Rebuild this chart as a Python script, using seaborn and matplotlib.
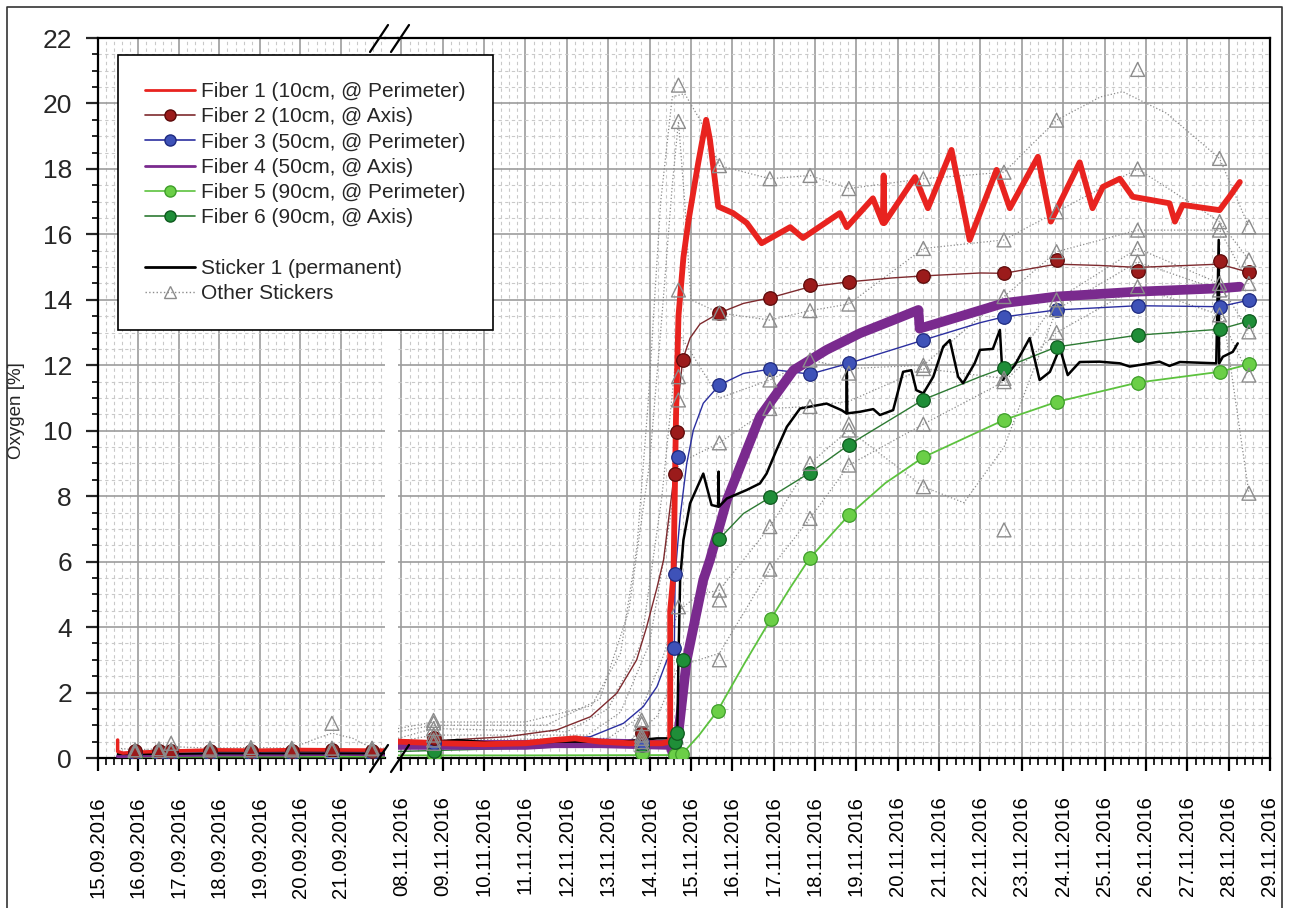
import matplotlib
matplotlib.use("Agg")
import matplotlib.pyplot as plt
from matplotlib.lines import Line2D
from matplotlib.ticker import MultipleLocator
import seaborn as sns

sns.set_style("ticks")
plt.rcParams['font.family'] = ['Liberation Sans', 'DejaVu Sans']

# ---------------- tick labels ----------------
sep_dates = ["15.09.2016", "16.09.2016", "17.09.2016", "18.09.2016",
             "19.09.2016", "20.09.2016", "21.09.2016"]
nov_dates = ["08.11.2016", "09.11.2016", "10.11.2016", "11.11.2016", "12.11.2016",
             "13.11.2016", "14.11.2016", "15.11.2016", "16.11.2016", "17.11.2016",
             "18.11.2016", "19.11.2016", "20.11.2016", "21.11.2016", "22.11.2016",
             "23.11.2016", "24.11.2016", "25.11.2016", "26.11.2016", "27.11.2016",
             "28.11.2016", "29.11.2016"]
legend_labels = ["Fiber 1 (10cm, @ Perimeter)", "Fiber 2 (10cm, @ Axis)",
                 "Fiber 3 (50cm, @ Perimeter)", "Fiber 4 (50cm, @ Axis)",
                 "Fiber 5 (90cm, @ Perimeter)", "Fiber 6 (90cm, @ Axis)", " ",
                 "Sticker 1 (permanent)", "Other Stickers"]
y_label = "Oxygen [%]"

# ================= September panel (days since 15.09.2016) =================
f1_sep_t = [0.49, 0.49, 0.62, 1.0, 2.0, 3.0, 4.0, 5.0, 6.0, 7.09]
f1_sep_v = [0.55, 0.2, 0.15, 0.18, 0.22, 0.25, 0.24, 0.26, 0.25, 0.24]
sep_line_t = [0.49, 1.5, 3.0, 4.5, 6.0, 7.09]
f2_sep_line = [0.15, 0.18, 0.2, 0.2, 0.2, 0.2]
f3_sep_line = [0.12, 0.14, 0.15, 0.15, 0.15, 0.15]
f4_sep_line = [0.05, 0.08, 0.1, 0.1, 0.12, 0.1]
f5_sep_line = [0.03, 0.03, 0.04, 0.04, 0.04, 0.04]
f6_sep_line = [0.08, 0.1, 0.1, 0.1, 0.1, 0.1]
st1_sep_line = [0.12, 0.12, 0.14, 0.14, 0.14, 0.14]

sep_mark_t = [0.92, 1.51, 1.81, 2.77, 3.78, 4.79, 5.78, 6.77]
f2_sep_mark = [0.22, 0.2, 0.22, 0.2, 0.22, 0.22, 0.25, 0.22]
f3_sep_mark = [0.15, 0.15, 0.15, 0.15, 0.15, 0.15, 0.15, 0.15]
f5_sep_mark = [0.05, 0.05, 0.05, 0.05, 0.05, 0.05, 0.05, 0.05]
f6_sep_mark = [0.1, 0.1, 0.1, 0.1, 0.1, 0.1, 0.1, 0.1]
os1_sep_mark = [0.25, 0.28, 0.45, 0.3, 0.32, 0.3, 1.06, 0.3]
os2_sep_mark = [0.2, 0.22, 0.25, 0.25, 0.25, 0.25, 0.3, 0.28]
os3_sep_mark = [0.15, 0.18, 0.2, 0.2, 0.2, 0.2, 0.22, 0.2]
os1_sep_line_t = [0.49, 0.92, 1.51, 1.81, 2.77, 3.78, 4.79, 5.3, 5.78, 6.3, 6.77, 7.09]
os1_sep_line_v = [0.3, 0.25, 0.28, 0.35, 0.3, 0.32, 0.3, 0.55, 0.76, 0.6, 0.3, 0.3]

# ================= November panel (days since 08.11.2016) =================
f1_t = [-0.08, 1.0, 2.0, 3.0, 3.7, 4.2, 4.8, 5.5, 6.3, 6.50, 6.50, 6.58, 6.64, 6.70,
        6.82, 6.94, 7.18, 7.37, 7.46, 7.66, 8.02, 8.35, 8.71, 9.40, 9.71, 10.60,
        10.77, 11.40, 11.64, 11.66, 11.68, 12.42, 12.73, 13.30, 13.74, 14.39, 14.71,
        15.39, 15.70, 16.40, 16.71, 16.96, 17.37, 17.68, 18.57, 18.70, 18.89, 19.78,
        20.02, 20.27]
f1_v = [0.5, 0.45, 0.42, 0.45, 0.55, 0.6, 0.5, 0.45, 0.45, 0.5, 4.5, 5.6, 10.4, 13.5,
        15.3, 16.4, 18.2, 19.5, 18.9, 16.85, 16.65, 16.35, 15.73, 16.22, 15.89, 16.65,
        16.22, 17.1, 16.35, 17.8, 16.35, 17.75, 16.8, 18.58, 15.83, 17.97, 16.8,
        18.37, 16.39, 18.2, 16.8, 17.45, 17.7, 17.15, 16.95, 16.39, 16.9, 16.74,
        17.15, 17.6]

f2_line_t = [-0.08, 1.18, 2.55, 3.76, 4.57, 5.21, 5.69, 5.93, 6.18, 6.34, 6.42, 6.58,
             6.70, 6.80, 6.98, 7.22, 7.69, 8.27, 8.91, 9.88, 10.82, 11.88, 12.62,
             13.99, 14.57, 15.84, 16.88, 17.80, 19.78, 20.49]
f2_line_v = [0.5, 0.55, 0.65, 0.86, 1.26, 1.98, 3.0, 4.0, 5.2, 6.05, 6.87, 8.49,
             10.94, 12.16, 12.83, 13.26, 13.6, 13.89, 14.06, 14.4, 14.55, 14.67, 14.73,
             14.82, 14.81, 15.09, 15.05, 14.99, 15.09, 14.84]
f2_mark_t = [0.78, 5.81, 6.62, 6.66, 6.80, 7.69, 8.91, 9.88, 10.82, 12.62, 14.57,
             15.84, 17.80, 19.78, 20.49]
f2_mark_v = [0.6, 0.75, 8.68, 9.97, 12.16, 13.6, 14.06, 14.45, 14.53, 14.73, 14.81,
             15.23, 14.88, 15.2, 14.84]

f3_line_t = [-0.08, 2.95, 4.57, 5.37, 5.85, 6.18, 6.42, 6.60, 6.62, 6.74, 6.90, 7.06,
             7.30, 7.69, 8.27, 8.91, 9.88, 10.82, 12.62, 13.99, 14.57, 15.84, 17.80,
             19.78, 20.49]
f3_line_v = [0.35, 0.5, 0.65, 1.06, 1.57, 2.18, 2.99, 3.35, 5.62, 7.37, 9.0, 10.02,
             10.84, 11.4, 11.75, 11.88, 11.73, 12.06, 12.77, 13.3, 13.48, 13.69, 13.82,
             13.79, 13.99]
f3_mark_t = [0.78, 5.81, 6.60, 6.62, 6.68, 7.69, 8.91, 9.88, 10.82, 12.62, 14.57,
             15.84, 17.80, 19.78, 20.49]
f3_mark_v = [0.45, 0.5, 3.35, 5.62, 9.19, 11.4, 11.88, 11.73, 12.06, 12.77, 13.48,
             13.69, 13.82, 13.79, 13.99]

f4_t = [-0.08, 3.0, 3.7, 4.8, 6.5, 6.58, 6.64, 6.90, 7.30, 7.46, 7.87, 8.67, 9.48,
        10.28, 11.09, 11.89, 12.50, 12.53, 13.50, 14.57, 15.84, 17.80, 19.78, 20.27]
f4_v = [0.4, 0.4, 0.45, 0.45, 0.4, 0.05, 0.1, 3.0, 5.44, 6.05, 7.88, 10.43, 11.85,
        12.47, 12.98, 13.38, 13.69, 13.12, 13.49, 13.9, 14.1, 14.25, 14.35, 14.4]

f5_line_t = [-0.08, 3.0, 6.62, 6.78, 7.2, 7.65, 8.3, 8.93, 9.4, 9.87, 10.82, 11.7,
             12.62, 14.57, 15.84, 17.80, 19.78, 20.49]
f5_line_v = [0.08, 0.08, 0.09, 0.11, 0.7, 1.45, 2.9, 4.24, 5.2, 6.1, 7.42, 8.4, 9.19,
             10.33, 10.88, 11.47, 11.8, 12.03]
f5_mark_t = [0.78, 5.81, 6.62, 6.78, 7.65, 8.93, 9.87, 10.82, 12.62, 14.57, 15.84,
             17.80, 19.78, 20.49]
f5_mark_v = [0.09, 0.14, 0.09, 0.11, 1.45, 4.24, 6.1, 7.42, 9.19, 10.33, 10.88,
             11.47, 11.8, 12.03]

f6_line_t = [-0.08, 3.0, 5.0, 6.6, 6.81, 7.1, 7.3, 7.69, 8.27, 8.91, 9.88, 10.82,
             12.62, 13.99, 14.57, 15.84, 17.80, 19.78, 20.49]
f6_line_v = [0.2, 0.3, 0.4, 0.45, 3.0, 4.3, 5.2, 6.7, 7.47, 7.96, 8.72, 9.57, 10.95,
             11.65, 11.92, 12.56, 12.92, 13.1, 13.35]
f6_mark_t = [0.78, 5.81, 6.62, 6.66, 6.81, 7.69, 8.91, 9.88, 10.82, 12.62, 14.57,
             15.84, 17.80, 19.78, 20.49]
f6_mark_v = [0.2, 0.4, 0.5, 0.75, 3.0, 6.7, 7.96, 8.72, 9.57, 10.95, 11.92, 12.56,
             12.92, 13.1, 13.35]

st1_t = [-0.08, 0.70, 1.35, 2.15, 2.95, 3.76, 4.57, 5.37, 6.18, 6.45, 6.67, 6.70, 6.74,
         6.82, 6.98, 7.30, 7.50, 7.66, 7.67, 7.68, 7.87, 8.35, 8.67, 8.83, 9.07, 9.32,
         9.64, 10.28, 10.64, 10.76, 10.77, 10.78, 11.09, 11.41, 11.57, 11.89, 12.13,
         12.33, 12.45, 12.62, 12.86, 13.10, 13.26, 13.46, 13.58, 13.86, 13.99, 14.30,
         14.47, 14.54, 14.83, 15.19, 15.43, 15.68, 15.92, 16.11, 16.40, 16.88, 17.37,
         17.61, 18.33, 18.57, 18.82, 19.70, 19.76, 19.77, 19.86, 20.10, 20.22]
st1_v = [0.5, 0.47, 0.55, 0.47, 0.45, 0.5, 0.5, 0.5, 0.6, 0.6, 0.6, 3.0, 5.44, 6.66,
         7.78, 8.69, 7.73, 7.68, 8.75, 7.68, 7.93, 8.19, 8.39, 8.69, 9.41, 10.12, 10.68,
         10.83, 10.63, 10.53, 11.9, 10.53, 10.58, 10.66, 10.48, 10.63, 11.8, 11.85,
         11.24, 11.14, 11.65, 12.57, 12.77, 11.65, 11.45, 12.06, 12.47, 12.5, 13.08,
         11.55, 12.0, 12.83, 11.55, 11.8, 12.53, 11.7, 12.1, 12.11, 12.06, 11.96, 12.11,
         11.98, 12.1, 12.06, 15.83, 12.06, 12.26, 12.41, 12.67]

os_t = [0.78, 5.81, 6.70, 7.69, 8.91, 9.88, 10.82, 12.62, 14.57, 15.84, 17.80, 19.78, 20.49]
os1_v = [1.15, 1.16, 20.56, 18.1, 17.7, 17.8, 17.4, 17.7, 17.9, 19.49, 21.04, 18.32, 16.23]
os2_v = [1.07, 1.05, 19.45, 13.6, 13.38, 13.67, 13.87, 15.57, 15.83, 16.69, 18.0, 16.39, 15.22]
os3_v = [0.9, 0.7, 14.3, 9.63, 11.55, 12.16, 11.76, 12.0, 14.1, 15.47, 16.13, 16.13, 14.5]
os4_v = [0.7, 0.6, 11.65, 5.13, 10.68, 10.74, 10.2, 11.9, 11.6, 14.0, 15.57, 14.5, 13.02]
os5_v = [0.55, 0.5, 10.94, 4.83, 7.07, 9.0, 10.02, 8.29, 6.97, 13.7, 15.16, 14.3, 8.09]
os6_v = [0.45, 0.4, 4.62, 3.0, 5.77, 7.32, 8.95, 10.2, 11.5, 13.0, 14.4, 13.54, 11.7]

os1_line_t = [-0.08, 0.78, 3.0, 4.6, 5.3, 5.7, 5.97, 6.27, 6.55, 6.85, 7.22, 7.69, 8.91,
              9.88, 10.82, 12.62, 14.57, 15.84, 16.9, 17.44, 18.5, 19.78, 20.49]
os1_line_v = [0.9, 1.1, 1.1, 1.6, 3.2, 6.5, 10.9, 17.0, 20.2, 20.3, 19.5, 18.1, 17.7,
              17.8, 17.4, 17.7, 17.9, 19.49, 20.2, 20.36, 19.7, 18.32, 16.23]
os2_line_t = [-0.08, 0.78, 3.5, 4.8, 5.5, 6.0, 6.3, 6.55, 6.70, 6.85, 7.0, 7.69, 8.91,
              9.88, 10.82, 12.62, 14.57, 15.84, 17.80, 19.78, 20.49]
os2_line_v = [0.8, 1.0, 1.0, 1.8, 4.5, 9.0, 13.5, 17.5, 19.45, 17.0, 14.0, 13.6, 13.38,
              13.67, 13.87, 15.57, 15.83, 16.69, 18.0, 16.39, 15.22]
os3_line_t = [-0.08, 0.78, 4.0, 5.0, 5.8, 6.3, 6.70, 7.69, 8.91, 9.88, 10.82, 12.62,
              14.57, 15.84, 17.80, 19.78, 20.49]
os3_line_v = [0.6, 0.9, 0.8, 1.5, 3.5, 8.0, 13.0, 11.0, 11.55, 12.16, 11.9, 12.0, 14.1,
              15.47, 16.13, 16.13, 14.5]
os4_line_t = [-0.08, 0.78, 4.5, 5.3, 6.0, 6.4, 6.70, 7.69, 8.91, 9.88, 10.82, 12.62,
              14.57, 15.84, 17.80, 19.78, 20.49]
os4_line_v = [0.5, 0.7, 0.7, 1.4, 3.5, 6.5, 9.0, 9.63, 10.68, 10.74, 10.9, 11.9, 11.6,
              14.0, 15.57, 14.5, 13.02]
os5_line_t = [-0.08, 0.78, 5.0, 5.7, 6.3, 6.70, 7.2, 7.69, 8.91, 9.88, 10.82, 12.62,
              13.6, 14.57, 15.84, 17.80, 19.78, 20.49]
os5_line_v = [0.4, 0.55, 0.6, 1.2, 3.0, 4.5, 5.0, 5.13, 7.07, 9.0, 10.02, 8.29, 7.8,
              9.5, 13.7, 15.16, 14.3, 8.09]
os6_line_t = [-0.08, 0.78, 5.5, 6.2, 6.5, 6.70, 7.69, 8.91, 9.88, 10.82, 12.62, 14.57,
              15.84, 17.80, 19.78, 20.49]
os6_line_v = [0.3, 0.45, 0.5, 1.3, 2.2, 2.8, 3.2, 5.77, 7.32, 8.95, 10.2, 11.5, 13.0,
              14.4, 13.54, 11.7]

# ---------------- styles ----------------
C_RED = "#E8231F"
C_F2_LINE, C_F2_FACE, C_F2_EDGE = "#7E2A2E", "#9B1B1B", "#5C0A0A"
C_F3_LINE, C_F3_FACE, C_F3_EDGE = "#2B2FA0", "#3E52B8", "#1E2A80"
C_PURPLE = "#7A2A8E"
C_F5_LINE, C_F5_FACE, C_F5_EDGE = "#5CC23E", "#6BCF47", "#3E9E2A"
C_F6_LINE, C_F6_FACE, C_F6_EDGE = "#2D7A33", "#1F8E38", "#0E5A1E"
C_GREY = "#8C8C8C"

W, H = 1289, 908
fig = plt.figure(figsize=(W / 100, H / 100), dpi=100)
ax_l = fig.add_axes([97.8 / W, (H - 758) / H, (385 - 97.8) / W, 720 / H])
ax_r = fig.add_axes([398 / W, (H - 758) / H, (1270 - 398) / W, 720 / H])


def line(ax, t, v, color, lw, ls='-', z=3):
    sns.lineplot(x=t, y=v, ax=ax, color=color, linewidth=lw, linestyle=ls,
                 estimator=None, sort=False, legend=False, zorder=z)


def balls(ax, t, v, face, edge, z=6):
    sns.scatterplot(x=t, y=v, ax=ax, marker='o', s=95, color=face,
                    edgecolor=edge, linewidth=0.9, legend=False, zorder=z)


def tris(ax, t, v, z=7):
    sns.scatterplot(x=t, y=v, ax=ax, marker='^', s=100, facecolors='none',
                    edgecolor=C_GREY, linewidth=1.0, legend=False, zorder=z)


# ----- September panel -----
line(ax_l, os1_sep_line_t, os1_sep_line_v, C_GREY, 0.9, ':', 2)
line(ax_l, sep_line_t, f5_sep_line, C_F5_LINE, 1.2)
line(ax_l, sep_line_t, f6_sep_line, C_F6_LINE, 1.0)
line(ax_l, sep_line_t, f3_sep_line, C_F3_LINE, 1.0)
line(ax_l, sep_line_t, f2_sep_line, C_F2_LINE, 1.0)
line(ax_l, sep_line_t, f4_sep_line, C_PURPLE, 2.5)
line(ax_l, sep_line_t, st1_sep_line, "black", 1.5)
line(ax_l, f1_sep_t, f1_sep_v, C_RED, 2.5, z=4)
balls(ax_l, sep_mark_t, f5_sep_mark, C_F5_FACE, C_F5_EDGE)
balls(ax_l, sep_mark_t, f6_sep_mark, C_F6_FACE, C_F6_EDGE)
balls(ax_l, sep_mark_t, f3_sep_mark, C_F3_FACE, C_F3_EDGE)
balls(ax_l, sep_mark_t, f2_sep_mark, C_F2_FACE, C_F2_EDGE)
for vals in (os1_sep_mark, os2_sep_mark, os3_sep_mark):
    tris(ax_l, sep_mark_t, vals)

# ----- November panel -----
for lt, lv in ((os1_line_t, os1_line_v), (os2_line_t, os2_line_v),
               (os3_line_t, os3_line_v), (os4_line_t, os4_line_v),
               (os5_line_t, os5_line_v), (os6_line_t, os6_line_v)):
    line(ax_r, lt, lv, C_GREY, 0.9, ':', 2)
line(ax_r, f5_line_t, f5_line_v, C_F5_LINE, 1.3)
line(ax_r, f6_line_t, f6_line_v, C_F6_LINE, 1.0)
line(ax_r, f3_line_t, f3_line_v, C_F3_LINE, 1.0)
line(ax_r, f2_line_t, f2_line_v, C_F2_LINE, 1.0)
line(ax_r, f4_t, f4_v, C_PURPLE, 7.0, z=3.2)
line(ax_r, st1_t, st1_v, "black", 1.8, z=3.5)
line(ax_r, f1_t, f1_v, C_RED, 4.2, z=4)
balls(ax_r, f5_mark_t, f5_mark_v, C_F5_FACE, C_F5_EDGE)
balls(ax_r, f6_mark_t, f6_mark_v, C_F6_FACE, C_F6_EDGE)
balls(ax_r, f3_mark_t, f3_mark_v, C_F3_FACE, C_F3_EDGE)
balls(ax_r, f2_mark_t, f2_mark_v, C_F2_FACE, C_F2_EDGE)
for vals in (os1_v, os2_v, os3_v, os4_v, os5_v, os6_v):
    tris(ax_r, os_t, vals)

# ---------------- axes styling ----------------
ax_l.set_xlim(0, 7.09)
ax_r.set_xlim(-0.08, 21)
ax_l.set_xticks(range(len(sep_dates)))
ax_l.set_xticklabels(sep_dates)
ax_r.set_xticks(range(len(nov_dates)))
ax_r.set_xticklabels(nov_dates)

for ax in (ax_l, ax_r):
    ax.set_ylim(0, 22)
    ax.set_xlabel("")
    ax.set_ylabel("")
    ax.yaxis.set_major_locator(MultipleLocator(2))
    ax.yaxis.set_minor_locator(MultipleLocator(0.5))
    ax.xaxis.set_minor_locator(MultipleLocator(0.2))
    ax.grid(which='major', color='#9C9C9C', lw=1.2, ls='-')
    ax.grid(which='minor', color='#C9C9C9', lw=0.8, ls=(0, (3, 3)))
    ax.set_axisbelow(True)
    ax.tick_params(axis='x', which='major', direction='out', length=9.5, width=1.6,
                   pad=18, labelsize=14.6, labelrotation=90, colors='black')
    ax.tick_params(axis='x', which='minor', direction='out', length=5, width=1.4)
    for sp in ax.spines.values():
        sp.set_linewidth(1.6)
        sp.set_color('black')
    ax.set_facecolor('white')

ax_l.spines['right'].set_visible(False)
ax_r.spines['left'].set_visible(False)
ax_l.tick_params(axis='y', which='major', direction='out', length=8.6, width=1.6,
                 pad=10, labelsize=19)
ax_l.tick_params(axis='y', which='minor', direction='out', length=4.3, width=1.4)
ax_r.tick_params(axis='y', which='both', left=False, right=False, labelleft=False)
ax_l.set_ylabel(y_label, fontsize=13.5)
ax_l.yaxis.set_label_coords(-0.255, 0.483)

# top frame bridging the break, break marks
fig.add_artist(Line2D([384 / W, 399 / W], [1 - 38 / H, 1 - 38 / H], color='black', lw=1.6))
for x0, x1 in ((370, 388), (391, 409)):
    fig.add_artist(Line2D([x0 / W, x1 / W], [1 - 52 / H, 1 - 25 / H], color='black', lw=1.6))
    fig.add_artist(Line2D([x0 / W, x1 / W], [1 - 772 / H, 1 - 745 / H], color='black', lw=1.6))

# outer border of the picture
fig.add_artist(Line2D([7 / W, 7 / W, 1282 / W, 1282 / W], [0, 1 - 7 / H, 1 - 7 / H, 0],
                      color='#333333', lw=1.2))

# ---------------- legend ----------------
handles = [
    Line2D([], [], color=C_RED, lw=2),
    Line2D([], [], color=C_F2_LINE, lw=1.2, marker='o', ms=8, mfc=C_F2_FACE, mec=C_F2_EDGE),
    Line2D([], [], color=C_F3_LINE, lw=1.2, marker='o', ms=8, mfc=C_F3_FACE, mec=C_F3_EDGE),
    Line2D([], [], color=C_PURPLE, lw=2),
    Line2D([], [], color=C_F5_LINE, lw=1.2, marker='o', ms=8, mfc=C_F5_FACE, mec=C_F5_EDGE),
    Line2D([], [], color=C_F6_LINE, lw=1.2, marker='o', ms=8, mfc=C_F6_FACE, mec=C_F6_EDGE),
    Line2D([], [], color='none'),
    Line2D([], [], color='black', lw=2),
    Line2D([], [], color=C_GREY, lw=1, ls=':', marker='^', ms=9, mfc='none', mec=C_GREY),
]
leg = fig.legend(handles, legend_labels, loc='upper left',
                 bbox_to_anchor=(118 / W, 1 - 55 / H), frameon=True, fancybox=False,
                 edgecolor='black', framealpha=1, fontsize=15, handlelength=2.4,
                 handletextpad=0.3, labelspacing=0.3, borderpad=1.3, borderaxespad=0)
leg.get_frame().set_linewidth(1.2)

fig.savefig("out.png", dpi=100, facecolor='white')
